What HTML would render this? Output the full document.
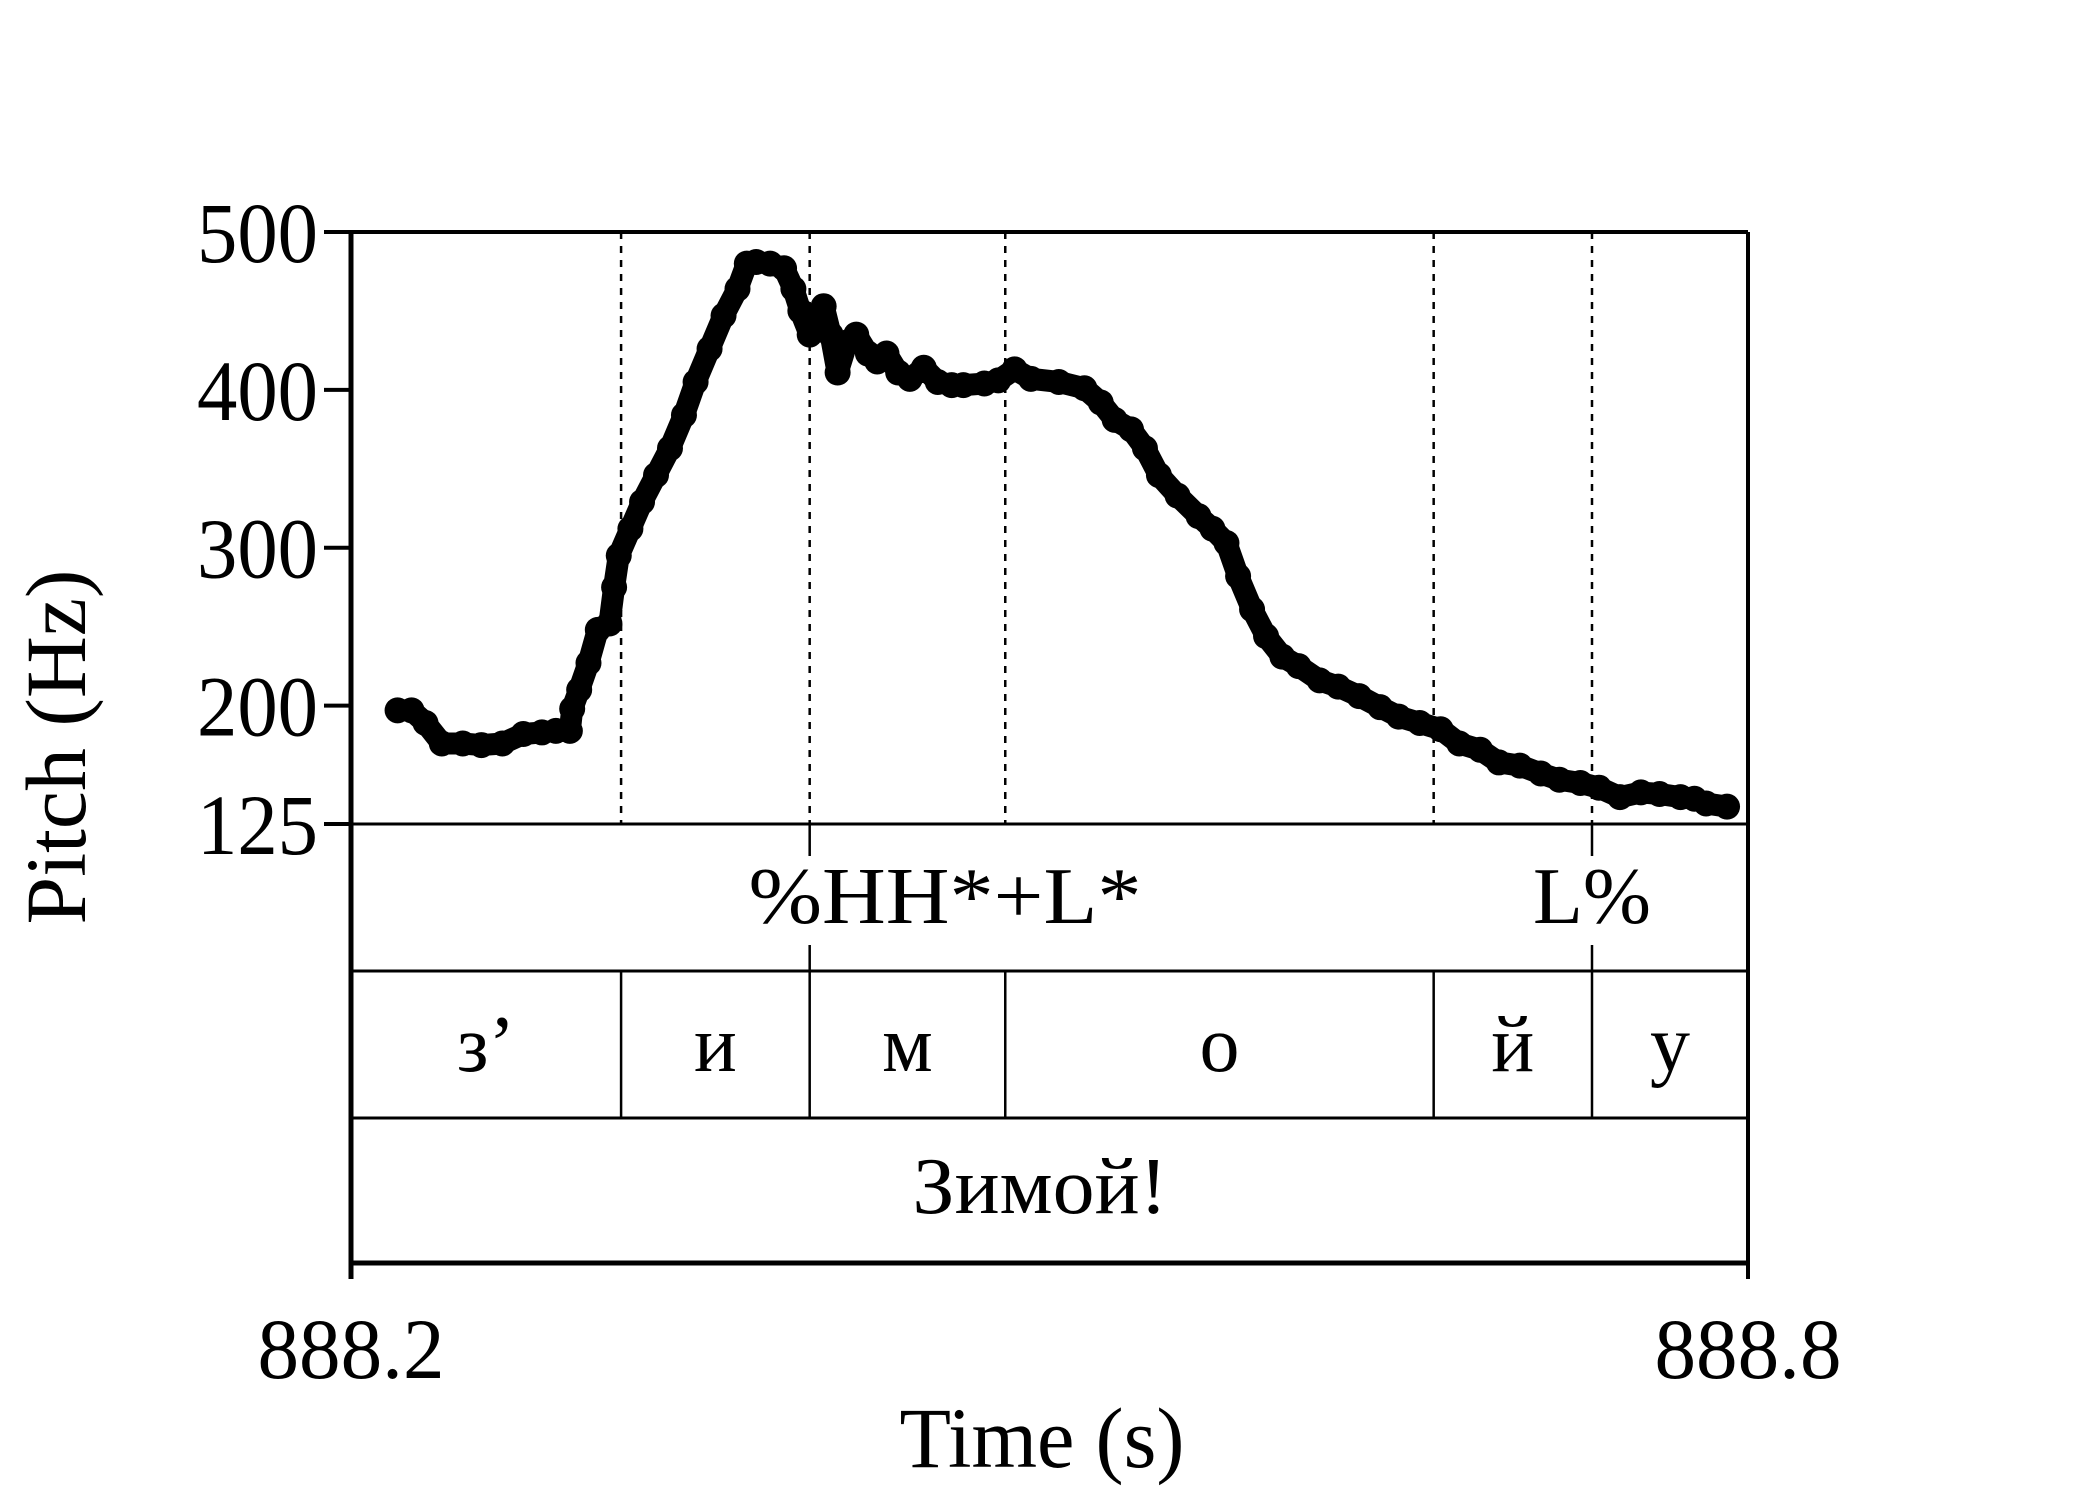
<!DOCTYPE html>
<html><head><meta charset="utf-8"><style>
html,body{margin:0;padding:0;background:#fff}
svg{display:block}
text{font-family:"Liberation Serif","Noto Serif CJK SC",serif;fill:#000}
</style></head><body>
<svg id="chart" width="2100" height="1500" viewBox="0 0 2100 1500" xmlns="http://www.w3.org/2000/svg">
<g id="grid"></g>
<g id="track"></g>
<g id="frame"></g>
<g id="labels"></g>
</svg>
<script>
const xTickLabels = ["888.2", "888.8"];
const yTickValues = [500, 400, 300, 200, 125];
const boundaries = [888.316, 888.397, 888.481, 888.665, 888.733];
const phoneLabels = ["з’", "и", "м", "о", "й", "у"];
const times = [888.220,888.226,888.232,888.239,888.248,888.256,888.265,888.274,888.282,888.288,888.294,888.295,888.298,888.302,888.306,888.311,888.313,888.315,888.320,888.325,888.331,888.337,888.343,888.348,888.354,888.360,888.366,888.370,888.374,888.380,888.386,888.390,888.393,888.397,888.400,888.403,888.406,888.409,888.413,888.417,888.422,888.426,888.430,888.435,888.440,888.446,888.452,888.458,888.463,888.472,888.478,888.485,888.492,888.504,888.515,888.522,888.528,888.535,888.541,888.547,888.555,888.564,888.570,888.576,888.581,888.587,888.593,888.600,888.607,888.616,888.624,888.633,888.642,888.650,888.659,888.668,888.676,888.685,888.693,888.702,888.711,888.719,888.728,888.736,888.745,888.754,888.762,888.771,888.777,888.782,888.791];
const pitches = [197,197,189,176,176,175,176,182,183,184,184,198,210,227,248,252,275,295,312,329,346,363,384,405,426,447,464,480,481,480,477,464,450,435,443,453,435,411,430,435,423,418,423,411,407,414,405,403,403,404,406,413,407,405,401,392,381,375,363,346,333,320,312,303,282,261,244,231,225,216,212,206,199,193,189,185,176,172,164,162,157,153,151,148,142,145,144,142,141,138,136];

const NS = "http://www.w3.org/2000/svg";
const X0 = 351, X1 = 1748, YT = 232, YB = 824;
const T0 = 888.2, T1 = 888.8;
const R1 = 971, R2 = 1118, R3 = 1263;
const xs = t => X0 + (t - T0) / (T1 - T0) * (X1 - X0);
const ys = f => YT + (500 - f) / (500 - 125) * (YB - YT);
function mk(tag, attrs, parent) {
  const e = document.createElementNS(NS, tag);
  for (const k in attrs) e.setAttribute(k, attrs[k]);
  parent.appendChild(e);
  return e;
}
const grid = document.getElementById('grid');
const track = document.getElementById('track');
const frame = document.getElementById('frame');
const labels = document.getElementById('labels');

boundaries.forEach((b, i) => {
  const x = xs(b);
  const d = mk('line', {x1:x, y1:YT, x2:x, y2:YB, stroke:'#000', 'stroke-width':2.5, 'stroke-dasharray':'7,7'}, grid);
  
  
  const s = mk('line', {x1:x, y1:R1, x2:x, y2:R2, stroke:'#000', 'stroke-width':2.5}, grid);
  
  
});
[1, 4].forEach(i => {
  const x = xs(boundaries[i]);
  const a = mk('line', {x1:x, y1:YB, x2:x, y2:856, stroke:'#000', 'stroke-width':2.5}, grid);
  
  
  const b = mk('line', {x1:x, y1:945, x2:x, y2:R1, stroke:'#000', 'stroke-width':2.5}, grid);
  
  
});

const pts = [];
for (let i = 0; i < times.length; i++) pts.push([xs(times[i]), ys(pitches[i])]);
const p = mk('polyline', {points: pts.map(q => q.join(',')).join(' '), fill:'none', stroke:'#000', 'stroke-width':22, 'stroke-linejoin':'round', 'stroke-linecap':'round'}, track);


for (let i = 0; i < times.length; i++) {
  const c = mk('circle', {cx: xs(times[i]), cy: ys(pitches[i]), r: 13, fill:'#000'}, track);
  
  
}

const fr = [[X0,YT,X1,YT,4],[X0,YT,X0,R3+16,5],[X1,YT,X1,R3+16,4],[X0,YB,X1,YB,3],[X0,R1,X1,R1,3],[X0,R2,X1,R2,3],[X0,R3,X1,R3,5]];
fr.forEach(f => {
  const l = mk('line', {x1:f[0], y1:f[1], x2:f[2], y2:f[3], stroke:'#000', 'stroke-width':f[4]}, frame);
  
  
});

yTickValues.forEach(v => {
  const y = ys(v);
  const t = mk('line', {x1:324, y1:y, x2:X0, y2:y, stroke:'#000', 'stroke-width':4}, frame);
  
  
  const tx = mk('text', {x:318, y:y+30, 'font-size':86, 'text-anchor':'end', textLength:121, lengthAdjust:'spacingAndGlyphs'}, labels);
  tx.textContent = String(v);
  
  
});
[T0, T1].forEach((t, i) => {
  const x = xs(t);
  const tx = mk('text', {x:x, y:1378, 'font-size':86, 'text-anchor':'middle', textLength:187, lengthAdjust:'spacingAndGlyphs'}, labels);
  tx.textContent = xTickLabels[i];
  
  
});

function label(txt, x, y, size, len, name) {
  const t = mk('text', {x:x, y:y, 'font-size':size, 'text-anchor':'middle'}, labels);
  if (len) { t.setAttribute('textLength', len); t.setAttribute('lengthAdjust', 'spacingAndGlyphs'); }
  t.textContent = txt;
  
  
  return t;
}
label('Time (s)', 1042, 1467, 86, 285, 'x-axis-title');
const yt = label('Pitch (Hz)', 0, 0, 86, 355, 'y-axis-title');
yt.setAttribute('transform', 'translate(85,747) rotate(-90)');
label('%HH*+L*', 945, 923, 80, 393, 'tone-label-main');
label('L%', 1592, 923, 80, 118, 'tone-label-boundary');
const edges = [T0].concat(boundaries, [T1]);
phoneLabels.forEach((ph, i) => {
  const cx = (xs(edges[i]) + xs(edges[i+1])) / 2;
  label(ph, cx, 1071, 80, null, 'phone-label');
});
label('Зимой!', 1040, 1213, 80, 255, 'word-label');
</script>
</body></html>
